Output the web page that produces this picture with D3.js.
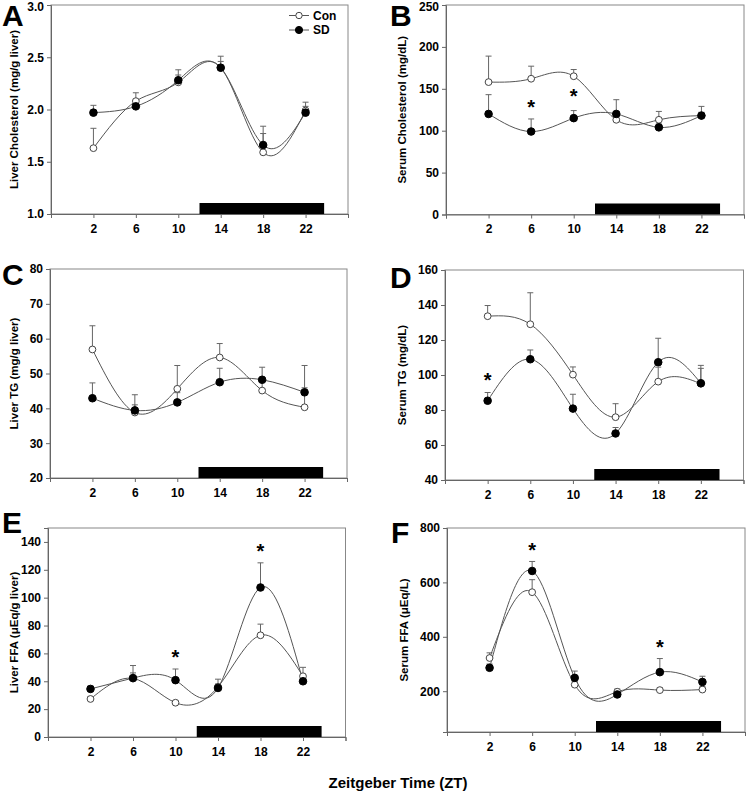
<!DOCTYPE html>
<html><head><meta charset="utf-8">
<script src="https://cdn.jsdelivr.net/npm/d3@7"></script>
<style>
body{margin:0;background:#fff;}
svg{font-family:"Liberation Sans",Arial,sans-serif;}
</style></head>
<body>
<svg id="chart" width="747" height="795"></svg>
<script>
const zt = [2, 6, 10, 14, 18, 22];
const xTicks = [-2, 2, 6, 10, 14, 18, 22, 26];
const xTickLabels = ["", "2", "6", "10", "14", "18", "22", ""];
const nightPhase = [12, 23.75];

// Panel A: Liver cholesterol
const aCon = [1.63, 2.08, 2.26, 2.40, 1.59, 1.99];
const aConErr = [1.82, 2.16, 2.33, 2.46, 1.77, 2.03];
const aSD = [1.97, 2.03, 2.28, 2.40, 1.66, 1.97];
const aSDErr = [2.04, 2.09, 2.38, 2.51, 1.84, 2.07];
const aStars = [];
// Panel B: Serum cholesterol
const bCon = [158, 162, 165, 113, 113, 118];
const bConErr = [189, 177, 173, 123, 123, 129];
const bSD = [120, 99, 115, 120, 104, 118];
const bSDErr = [143, 114, 124, 137, 108, 122];
const bStars = [[6, 132], [10, 145]];
// Panel C: Liver TG
const cCon = [56.9, 38.8, 45.6, 54.6, 45.1, 40.3];
const cConErr = [63.7, 41.0, 52.3, 58.6, 48.0, 52.3];
const cSD = [42.9, 39.4, 41.7, 47.5, 48.2, 44.6];
const cSDErr = [47.3, 43.9, 44.5, 51.5, 51.8, 45.9];
const cStars = [];
// Panel D: Serum TG
const dCon = [133.6, 129.0, 100.2, 75.9, 96.2, 95.0];
const dConErr = [139.7, 147.0, 104.6, 83.6, 104.5, 105.5];
const dSD = [85.3, 109.0, 80.8, 66.6, 107.3, 95.3];
const dSDErr = [90.0, 114.3, 89.0, 70.0, 121.0, 103.8];
const dStars = [[2, 99]];
// Panel E: Liver FFA
const eCon = [27.3, 42.0, 24.6, 36.0, 73.0, 43.6];
const eConErr = [29.0, 46.0, 26.0, 41.5, 81.0, 50.0];
const eSD = [34.5, 42.3, 40.8, 35.2, 107.3, 40.0];
const eSDErr = [36.5, 51.3, 48.8, 38.0, 125.0, 42.0];
const eStars = [[10, 60], [18, 136]];
// Panel F: Serum FFA
const fCon = [322, 564, 224, 198, 204, 206];
const fConErr = [341, 610, 236, 208, 212, 218];
const fSD = [286, 642, 249, 188, 270, 234];
const fSDErr = [300, 677, 274, 196, 320, 255];
const fStars = [[6, 732], [18, 373]];

const panels = [
  {letter:"A", label:"Liver Cholesterol (mg/g liver)", con:aCon, conErr:aConErr, sd:aSD, sdErr:aSDErr, stars:aStars,
   domain:[1,3], ticks:[1.0,1.5,2.0,2.5,3.0], fmt:d3.format(".1f"),
   box:{x0:51,x1:348,y0:5,y1:214}, letterPos:[2,26], labelX:15, legend:true},
  {letter:"B", label:"Serum Cholesterol (mg/dL)", con:bCon, conErr:bConErr, sd:bSD, sdErr:bSDErr, stars:bStars,
   domain:[0,250], ticks:[0,50,100,150,200,250], fmt:d3.format("d"),
   box:{x0:446,x1:744,y0:5,y1:214.5}, letterPos:[390,26], labelX:403},
  {letter:"C", label:"Liver TG (mg/g liver)", con:cCon, conErr:cConErr, sd:cSD, sdErr:cSDErr, stars:cStars,
   domain:[20,80], ticks:[20,30,40,50,60,70,80], fmt:d3.format("d"),
   box:{x0:50,x1:347,y0:269,y1:478}, letterPos:[2,285], labelX:15},
  {letter:"D", label:"Serum TG (mg/dL)", con:dCon, conErr:dConErr, sd:dSD, sdErr:dSDErr, stars:dStars,
   domain:[40,160], ticks:[40,60,80,100,120,140,160], fmt:d3.format("d"),
   box:{x0:445,x1:743.5,y0:270,y1:480}, letterPos:[390,288], labelX:403},
  {letter:"E", label:"Liver FFA (\u03bcEq/g liver)", con:eCon, conErr:eConErr, sd:eSD, sdErr:eSDErr, stars:eStars,
   domain:[0,150], ticks:[0,20,40,60,80,100,120,140], fmt:d3.format("d"),
   box:{x0:48,x1:345.5,y0:528,y1:737}, letterPos:[2,533], labelX:15},
  {letter:"F", label:"Serum FFA (\u03bcEq/L)", con:fCon, conErr:fConErr, sd:fSD, sdErr:fSDErr, stars:fStars,
   domain:[50,800], ticks:[200,400,600,800], fmt:d3.format("d"),
   box:{x0:447,x1:745,y0:528,y1:732}, letterPos:[391,543], labelX:405}
];

const svg = d3.select("#chart");
const lineColor = "#555";
const axisColor = "#666";

panels.forEach(p => {
  const b = p.box;
  const x = d3.scaleLinear().domain([-2, 26]).range([b.x0, b.x1]);
  const y = d3.scaleLinear().domain(p.domain).range([b.y1, b.y0]);
  const g = svg.append("g");

  // frame
  g.append("rect").attr("x", b.x0).attr("y", b.y0).attr("width", b.x1-b.x0).attr("height", b.y1-b.y0)
    .attr("fill","none").attr("stroke","#888").attr("stroke-width",1);

  // night bar
  g.append("rect").attr("x", x(nightPhase[0])).attr("y", b.y1-11)
    .attr("width", x(nightPhase[1]) - x(nightPhase[0])).attr("height", 11).attr("fill","#000");

  // axes
  const yAxis = d3.axisLeft(y).tickValues(p.ticks).tickFormat(p.fmt).tickSize(4).tickPadding(3);
  const ya = g.append("g").attr("transform", `translate(${b.x0},0)`).call(yAxis);
  const xAxis = d3.axisBottom(x).tickValues(xTicks).tickFormat((d,i)=>xTickLabels[i]).tickSize(4).tickPadding(6);
  const xa = g.append("g").attr("transform", `translate(0,${b.y1})`).call(xAxis);
  [ya, xa].forEach(a => {
    a.select(".domain").attr("stroke", axisColor);
    a.selectAll(".tick line").attr("stroke", axisColor);
    a.selectAll(".tick text").attr("fill","#000").attr("font-size","12px").attr("font-weight","bold")
      .attr("font-family","'Liberation Sans',Arial,sans-serif");
  });
  // keep the topmost y label inside the picture
  ya.selectAll(".tick text").filter(d => y(d) < 8).attr("dy", "0.45em");

  // y label
  g.append("text").attr("transform", `translate(${p.labelX},${(b.y0+b.y1)/2}) rotate(-90)`)
    .attr("text-anchor","middle").attr("dominant-baseline","middle")
    .attr("font-size","11.5px").attr("font-weight","bold").text(p.label);

  // letter
  g.append("text").attr("x", p.letterPos[0]).attr("y", p.letterPos[1])
    .attr("font-size","30px").attr("font-weight","bold").text(p.letter);

  const series = [
    {vals:p.con, err:p.conErr, fill:"#fff", stroke:"#444", r:3.4},
    {vals:p.sd, err:p.sdErr, fill:"#000", stroke:"#000", r:3.8}
  ];

  // error bars
  series.forEach(s => {
    zt.forEach((t,i) => {
      const xx = x(t), yv = y(s.vals[i]), ye = y(s.err[i]);
      g.append("line").attr("x1",xx).attr("x2",xx).attr("y1",yv).attr("y2",ye).attr("stroke","#666").attr("stroke-width",1);
      g.append("line").attr("x1",xx-3).attr("x2",xx+3).attr("y1",ye).attr("y2",ye).attr("stroke","#666").attr("stroke-width",1);
    });
  });

  // curves
  const line = d3.line().x((d,i)=>x(zt[i])).y(d=>y(d)).curve(d3.curveNatural);
  series.forEach(s => {
    g.append("path").attr("d", line(s.vals)).attr("fill","none").attr("stroke",lineColor).attr("stroke-width",1);
  });

  // points
  series.forEach(s => {
    zt.forEach((t,i) => {
      g.append("circle").attr("cx", x(t)).attr("cy", y(s.vals[i])).attr("r", s.r)
        .attr("fill", s.fill).attr("stroke", s.stroke).attr("stroke-width",1);
    });
  });

  // stars
  p.stars.forEach(st => {
    g.append("text").attr("x", x(st[0])).attr("y", y(st[1])).attr("text-anchor","middle")
      .attr("dominant-baseline","middle").attr("dy","0.25em")
      .attr("font-size","20px").attr("font-weight","bold").text("*");
  });

  // legend
  if (p.legend) {
    const items = [{t:"Con", fill:"#fff", stroke:"#444", r:3.2, y:15.5}, {t:"SD", fill:"#000", stroke:"#000", r:3.6, y:30}];
    items.forEach(it => {
      g.append("line").attr("x1",289).attr("x2",309).attr("y1",it.y).attr("y2",it.y).attr("stroke",lineColor);
      g.append("circle").attr("cx",299).attr("cy",it.y).attr("r",it.r).attr("fill",it.fill).attr("stroke",it.stroke);
      g.append("text").attr("x",313).attr("y",it.y).attr("dy","0.35em").attr("font-size","12px")
        .attr("font-weight","bold").text(it.t);
    });
  }
});

svg.append("text").attr("x", 398).attr("y", 788).attr("text-anchor","middle")
  .attr("font-size","15px").attr("font-weight","bold").text("Zeitgeber Time (ZT)");
</script>
</body></html>
